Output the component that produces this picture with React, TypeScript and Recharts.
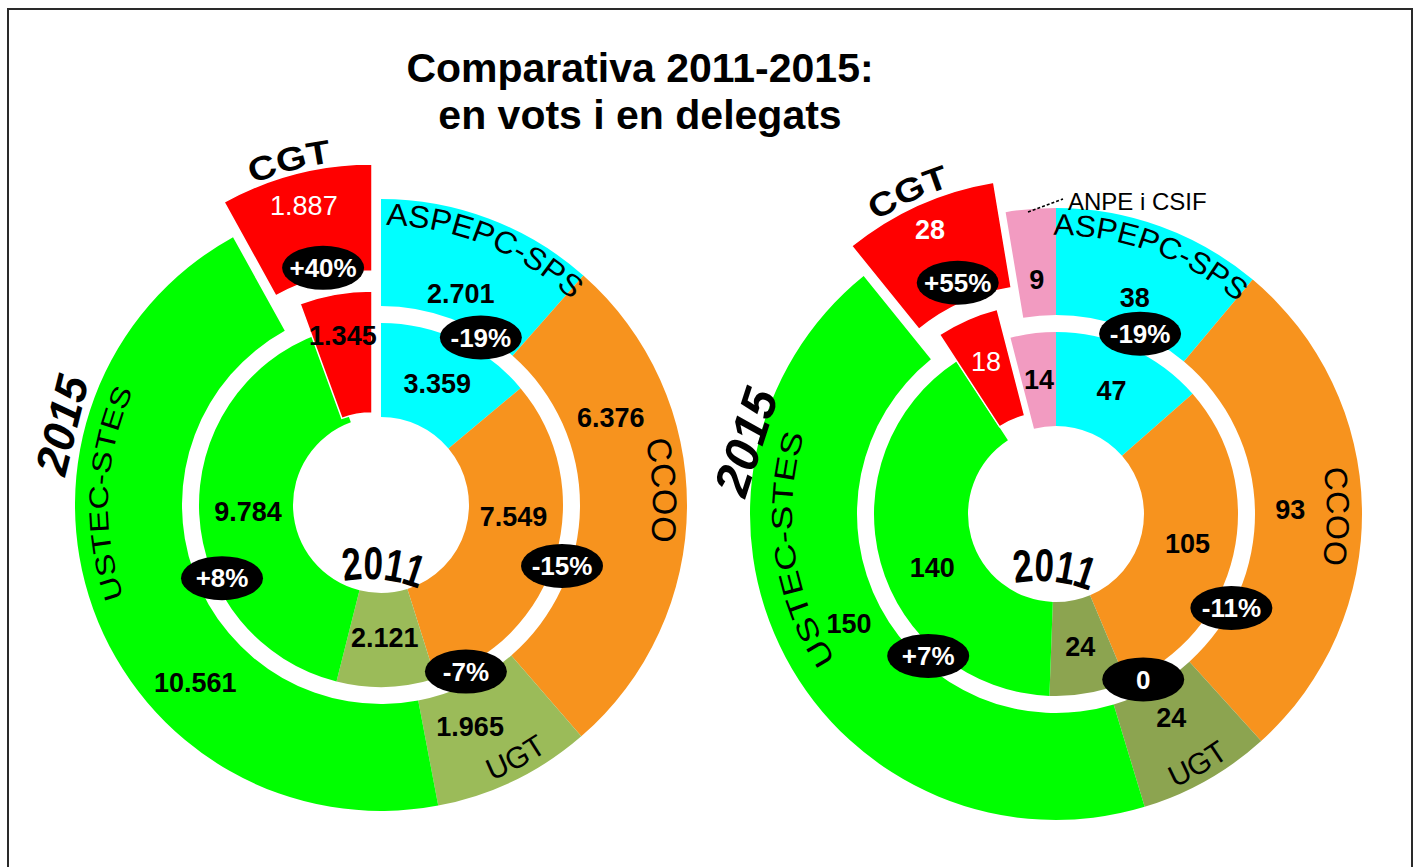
import React from 'react';
import { PieChart, Pie, Cell } from 'recharts';

// votes (left donut)
const voteUnions = ['ASPEPC-SPS', 'CCOO', 'UGT', 'USTEC-STES', 'CGT'];
const votes2011 = [3359, 7549, 2121, 9784, 1345];
const votes2015 = [2701, 6376, 1965, 10561, 1887];
const voteChanges = ['-19%', '-15%', '-7%', '+8%', '+40%'];

// delegates (right donut)
const delegateUnions = ['ASPEPC-SPS', 'CCOO', 'UGT', 'USTEC-STES', 'CGT', 'ANPE i CSIF'];
const delegates2011 = [47, 105, 24, 140, 18, 14];
const delegates2015 = [38, 93, 24, 150, 28, 9];
const delegateChanges = ['-19%', '-11%', '0', '+7%', '+55%'];

const titleLines = ['Comparativa 2011-2015:', 'en vots i en delegats'];
const innerYear = '2011';
const outerYear = '2015';

const W = 1417;
const H = 867;
const FONT = "'Liberation Sans', Arial, Helvetica, sans-serif";
const NARROW = "'Liberation Sans Narrow', 'Arial Narrow', 'Liberation Sans', Arial, sans-serif";
const RAD = Math.PI / 180;

const baseColors: Record<string, string> = {
  'ASPEPC-SPS': '#00ffff',
  CCOO: '#f7931e',
  'USTEC-STES': '#00ff00',
  CGT: '#ff0000',
  'ANPE i CSIF': '#f29bc1',
};
const leftColors = { ...baseColors, UGT: '#9bbb59' };
const rightColors = { ...baseColors, UGT: '#8ca450' };

const RING = { hole: 88, innerOut: 182, outerIn: 199, outerOut: 306 };
const LEFT = { cx: 381, cy: 505, outBoom: [372, 470], inBoom: [372, 501], inBoomR: [88, 210] };
const RIGHT = { cx: 1056, cy: 514, outBoom: [1044, 484], inBoom: [1046, 498], inBoomR: [85, 195] };

const toData = (names: string[], values: number[]) => names.map((name, i) => ({ name, value: values[i] }));
const fmt = (v: number) => String(v).replace(/\B(?=(\d{3})+(?!\d))/g, '.');

// point on a circle, angle clockwise from 12 o'clock
const pt = (cx: number, cy: number, r: number, a: number) => [cx + r * Math.sin(a * RAD), cy - r * Math.cos(a * RAD)];
const arcD = (cx: number, cy: number, r: number, a0: number, a1: number) => {
  const [x0, y0] = pt(cx, cy, r, a0);
  const [x1, y1] = pt(cx, cy, r, a1);
  const sweep = a1 > a0 ? 1 : 0;
  const large = Math.abs(a1 - a0) > 180 ? 1 : 0;
  return `M${x0},${y0} A${r},${r} 0 ${large} ${sweep} ${x1},${y1}`;
};

type LabelOpts = {
  only?: string;
  skip?: string[];
  frac: number;
  nudge?: Record<string, number>;
  rShift?: Record<string, number>;
  color?: string;
  weight?: string;
};
const valueLabel = (o: LabelOpts) => (p: any) => {
  const name = p.payload?.name ?? p.name;
  if (o.only && name !== o.only) return null;
  if (o.skip && o.skip.includes(name)) return null;
  const r = p.innerRadius + (p.outerRadius - p.innerRadius) * o.frac + (o.rShift?.[name] ?? 0);
  const a = (p.midAngle - (o.nudge?.[name] ?? 0)) * RAD;
  return (
    <text
      key={`lbl-${name}`}
      x={p.cx + r * Math.cos(-a)}
      y={p.cy + r * Math.sin(-a)}
      textAnchor="middle"
      dominantBaseline="central"
      fill={o.color ?? '#000'}
      fontWeight={o.weight ?? 'bold'}
      fontSize={27}
      fontFamily={FONT}
    >
      {fmt(p.value)}
    </text>
  );
};

const ringPie = (
  key: string,
  data: { name: string; value: number }[],
  colors: Record<string, string>,
  cx: number,
  cy: number,
  inner: number,
  outer: number,
  show: (n: string) => boolean,
  label: any,
  edge?: string
) => (
  <Pie
    key={key}
    data={data}
    dataKey="value"
    nameKey="name"
    cx={cx}
    cy={cy}
    innerRadius={inner}
    outerRadius={outer}
    startAngle={90}
    endAngle={-270}
    stroke="none"
    labelLine={false}
    label={label}
    isAnimationActive={false}
  >
    {data.map((d) => (
      <Cell
        key={d.name}
        fill={show(d.name) ? colors[d.name] : 'none'}
        stroke={show(d.name) && edge ? edge : 'none'}
        strokeWidth={edge ? 1.5 : 0}
      />
    ))}
  </Pie>
);

const CurvedText = ({ id, cx, cy, r, from, to, text, size, weight, length }: any) => (
  <g>
    <path id={id} d={arcD(cx, cy, r, from, to)} fill="none" />
    <text fontSize={size} fontWeight={weight ?? 'normal'} fontFamily={FONT} fill="#000">
      <textPath href={`#${id}`} startOffset="50%" textAnchor="middle" textLength={length} lengthAdjust={length ? 'spacingAndGlyphs' : undefined}>
        {text}
      </textPath>
    </text>
  </g>
);

const Badge = ({ x, y, text }: { x: number; y: number; text: string }) => (
  <g>
    <ellipse cx={x} cy={y} rx={41} ry={22} fill="#000" />
    <text x={x} y={y} dy="0.36em" textAnchor="middle" fill="#fff" fontWeight="bold" fontSize={26} fontFamily={FONT}>
      {text}
    </text>
  </g>
);

// badge spots: [angle clockwise from top, radius]; the CGT one is measured from the exploded slice centre
const leftBadgeSpots = [[30.8, 195], [108.6, 191], [153, 187], [245.3, 175], [346.4, 208]];
const rightBadgeSpots = [[25, 199], [118.2, 199], [152.2, 187], [222, 191], [336.8, 219]];

const leftArcs = [
  { text: 'ASPEPC-SPS', r: 280, from: 0, to: 44, size: 31, length: 205 },
  { text: 'CCOO', r: 272, from: 76, to: 98, size: 34 },
  { text: 'UGT', r: 297, from: 160, to: 144, size: 30 },
  { text: 'USTEC-STES', r: 273, from: 250, to: 295, size: 27, length: 212 },
];
const rightArcs = [
  { text: 'ASPEPC-SPS', r: 279, from: -1, to: 41, size: 30, length: 200 },
  { text: 'CCOO', r: 271, from: 79, to: 102, size: 32 },
  { text: 'UGT', r: 298, from: 158, to: 143, size: 30 },
  { text: 'USTEC-STES', r: 264, from: 236, to: 288, size: 29, length: 235 },
];

const Donut = ({ side, d, arcs, badges, changes, cgtArc, yearPos, yearArc }: any) => (
  <g>
    {arcs.map((a: any, i: number) => (
      <CurvedText key={a.text} id={`${side}-arc-${i}`} cx={d.cx} cy={d.cy} {...a} />
    ))}
    <CurvedText id={`${side}-cgt`} cx={d.outBoom[0]} cy={d.outBoom[1]} {...cgtArc} text="CGT" weight="bold" />
    <text
      x={yearPos.x}
      y={yearPos.y}
      transform={`rotate(${yearPos.rot} ${yearPos.x} ${yearPos.y})`}
      textAnchor="middle"
      dominantBaseline="central"
      fontSize={yearPos.size}
      fontWeight="bold"
      fontStyle="italic"
      fontFamily={FONT}
    >
      {outerYear}
    </text>
    <path id={`${side}-year`} d={arcD(yearArc.cx, yearArc.cy, 130, -24, 36)} fill="none" />
    <text fontSize={46} fontWeight="bold" fontFamily={NARROW}>
      <textPath href={`#${side}-year`} startOffset="50%" textAnchor="middle" textLength={76} lengthAdjust="spacingAndGlyphs">
        {innerYear}
      </textPath>
    </text>
    {badges.map(([a, r]: number[], i: number) => {
      const c = i === badges.length - 1 ? d.outBoom : [d.cx, d.cy];
      const [x, y] = pt(c[0], c[1], r, a);
      return <Badge key={i} x={x} y={y} text={changes[i]} />;
    })}
  </g>
);

export default function App() {
  const vIn = toData(voteUnions, votes2011);
  const vOut = toData(voteUnions, votes2015);
  const dIn = toData(delegateUnions, delegates2011);
  const dOut = toData(delegateUnions, delegates2015);
  const notCgt = (n: string) => n !== 'CGT';
  const isCgt = (n: string) => n === 'CGT';

  return (
    <div style={{ position: 'fixed', left: 0, top: 0, width: W, height: H, overflow: 'hidden', background: '#fff' }}>
      <div
        style={{
          position: 'absolute',
          left: 7,
          top: 8,
          width: 1406,
          height: 900,
          border: '2px solid #2a2a2a',
          boxSizing: 'border-box',
        }}
      />
      <div style={{ position: 'absolute', left: 0, top: 0 }}>
        <PieChart width={W} height={H} margin={{ top: 0, right: 0, bottom: 0, left: 0 }}>
          {ringPie('l-in', vIn, leftColors, LEFT.cx, LEFT.cy, RING.hole, RING.innerOut, notCgt,
            valueLabel({ skip: ['CGT'], frac: 0.48, nudge: { CCOO: -11 } }))}
          {ringPie('l-out', vOut, leftColors, LEFT.cx, LEFT.cy, RING.outerIn, RING.outerOut, notCgt,
            valueLabel({
              skip: ['CGT'],
              frac: 0.38,
              nudge: { CCOO: -21, UGT: 4, 'USTEC-STES': -24 },
              rShift: { 'ASPEPC-SPS': -14, CCOO: 6, 'USTEC-STES': 18 },
            }))}
          {ringPie('l-out-cgt', vOut, leftColors, LEFT.outBoom[0], LEFT.outBoom[1], RING.outerIn, RING.outerOut, isCgt,
            valueLabel({ only: 'CGT', frac: 0.69, color: '#fff', weight: 'normal' }), '#fff')}
          {ringPie('l-in-cgt', vIn, leftColors, LEFT.inBoom[0], LEFT.inBoom[1], LEFT.inBoomR[0], LEFT.inBoomR[1], isCgt,
            valueLabel({ only: 'CGT', frac: 0.65 }), '#fff')}

          {ringPie('r-in', dIn, rightColors, RIGHT.cx, RIGHT.cy, RING.hole, RING.innerOut, notCgt,
            valueLabel({ skip: ['CGT'], frac: 0.5, nudge: { 'USTEC-STES': -8 } }))}
          {ringPie('r-out', dOut, rightColors, RIGHT.cx, RIGHT.cy, RING.outerIn, RING.outerOut, notCgt,
            valueLabel({ skip: ['CGT'], frac: 0.33, rShift: { 'ASPEPC-SPS': -4 } }))}
          {ringPie('r-out-cgt', dOut, rightColors, RIGHT.outBoom[0], RIGHT.outBoom[1], RING.outerIn, RING.outerOut, isCgt,
            valueLabel({ only: 'CGT', frac: 0.74, color: '#fff' }), '#fff')}
          {ringPie('r-in-cgt', dIn, rightColors, RIGHT.inBoom[0], RIGHT.inBoom[1], RIGHT.inBoomR[0], RIGHT.inBoomR[1], isCgt,
            valueLabel({ only: 'CGT', frac: 0.58, color: '#fff', weight: 'normal' }), '#fff')}
        </PieChart>
      </div>
      <svg width={W} height={H} style={{ position: 'absolute', left: 0, top: 0, pointerEvents: 'none' }}>
        <text x={640} y={82} textAnchor="middle" fontSize={41} fontWeight="bold" fontFamily={FONT}>
          {titleLines[0]}
        </text>
        <text x={640} y={129} textAnchor="middle" fontSize={41} fontWeight="bold" fontFamily={FONT}>
          {titleLines[1]}
        </text>

        <Donut
          side="l"
          d={LEFT}
          arcs={leftArcs}
          badges={leftBadgeSpots}
          changes={voteChanges}
          cgtArc={{ r: 310, from: 330, to: 360, size: 33, length: 82 }}
          yearPos={{ x: 62, y: 425, rot: -76, size: 45 }}
          yearArc={{ cx: 368, cy: 709 }}
        />
        <Donut
          side="r"
          d={RIGHT}
          arcs={rightArcs}
          badges={rightBadgeSpots}
          changes={delegateChanges}
          cgtArc={{ r: 312, from: 320, to: 350, size: 33, length: 82 }}
          yearPos={{ x: 746, y: 442, rot: -72, size: 49 }}
          yearArc={{ cx: 1039, cy: 711 }}
        />

        <line x1={1028} y1={212} x2={1063} y2={199} stroke="#000" strokeWidth={1.5} strokeDasharray="3 2" />
        <text x={1068} y={210} fontSize={24} fontFamily={FONT}>
          {delegateUnions[5]}
        </text>
      </svg>
    </div>
  );
}
